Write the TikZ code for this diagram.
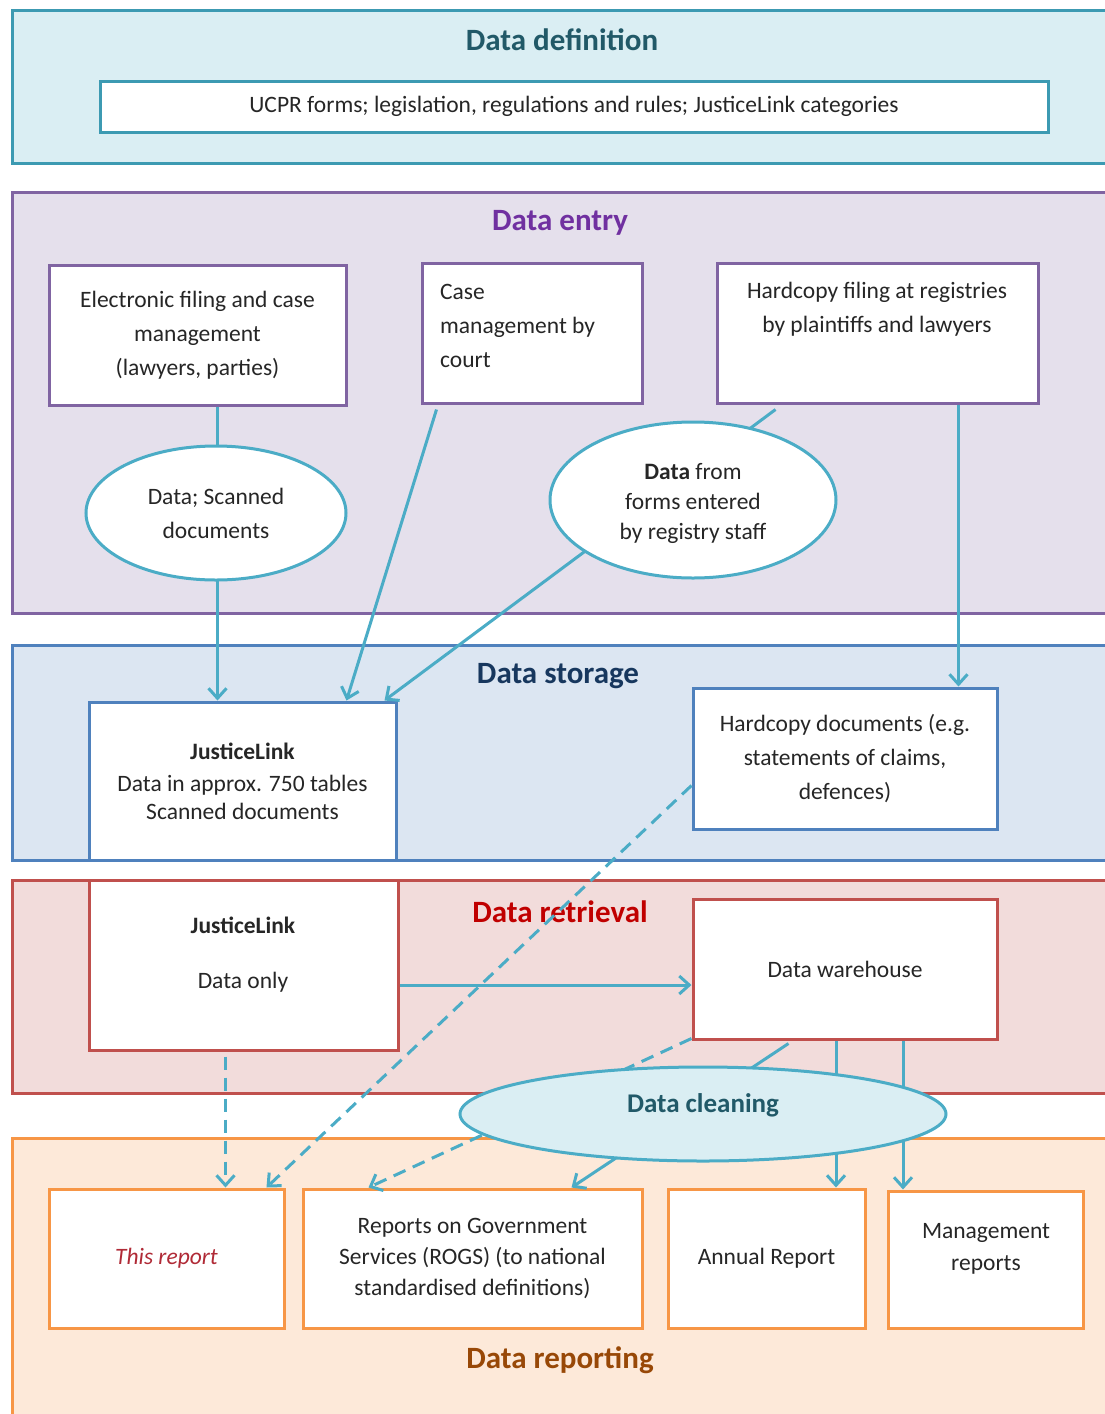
\documentclass[tikz,border=0pt]{standalone}
\usepackage{fontspec}
\setmainfont{Carlito}
\usetikzlibrary{arrows.meta,shapes.geometric}
\definecolor{teal1}{HTML}{4BACC6}
\definecolor{tealdk}{HTML}{3C9AB2}
\definecolor{deffill}{HTML}{DAEEF3}
\definecolor{entfill}{HTML}{E5E0EC}
\definecolor{entline}{HTML}{8064A2}
\definecolor{stofill}{HTML}{DCE6F2}
\definecolor{stoline}{HTML}{4F81BD}
\definecolor{retfill}{HTML}{F2DCDB}
\definecolor{retline}{HTML}{C0504D}
\definecolor{repfill}{HTML}{FDE9D9}
\definecolor{repline}{HTML}{F79646}
\definecolor{tdef}{HTML}{215968}
\definecolor{tent}{HTML}{7030A0}
\definecolor{tsto}{HTML}{17375E}
\definecolor{tret}{HTML}{C00000}
\definecolor{trep}{HTML}{984807}
\definecolor{thisrep}{HTML}{B02A36}
\begin{document}
\begin{tikzpicture}[x=1pt,y=-1pt,
  panel/.style={line width=3pt},
  ptitle/.style={font=\fontsize{31}{36}\selectfont\bfseries, inner sep=0pt},
  txt/.style={font=\fontsize{23.5}{34}\selectfont, align=center, inner sep=0pt, text=black!85},
  boxtxt/.style={txt, fill=white, line width=3pt, inner sep=2pt},
  defbox/.style={boxtxt, draw=tealdk},
  entbox/.style={boxtxt, draw=entline},
  stobox/.style={boxtxt, draw=stoline},
  retbox/.style={boxtxt, draw=retline},
  repbox/.style={boxtxt, draw=repline},
  ell/.style={ellipse, draw=teal1, fill=white, line width=3pt, inner sep=0pt},
  conn/.style={draw=teal1, line width=3pt},
  tip/.style={-{Straight Barb[length=10pt,width=18pt,line width=3pt]}},
  arr/.style={conn, tip},
  dsh/.style={conn, dash pattern=on 13pt off 8pt},
]
\useasboundingbox (0,0) rectangle (1105,1414);
\clip (0,0) rectangle (1105,1414);
% panels
\path[panel, draw=tealdk, fill=deffill] (12,10) rectangle (1112,163);
\path[panel, draw=entline, fill=entfill] (12,192) rectangle (1112,613);
\path[panel, draw=stoline, fill=stofill] (12,645) rectangle (1112,860);
\path[panel, draw=retline, fill=retfill] (12,880) rectangle (1112,1093);
\path[panel, draw=repline, fill=repfill] (12,1138) rectangle (1112,1430);
% titles
\node[ptitle, text=tdef] (tdefn) at (562,40) {Data definition};
\node[ptitle, text=tent] (tentr) at (560,223) {Data entry};
\node[ptitle, text=tsto] (tstor) at (558,676) {Data storage};
\node[ptitle, text=tret] (tretr) at (560,912) {Data retrieval};
\node[ptitle, text=trep] (trepo) at (560,1360) {Data reporting};
% boxes
\node[defbox, minimum width=948, minimum height=51] (ucpr) at (574,106.5) {UCPR forms; legislation, regulations and rules; JusticeLink categories};
\node[entbox, minimum width=297, minimum height=140] (elec) at (197.5,335) {Electronic filing and case\\management\\(lawyers, parties)};
\node[entbox, minimum width=220, minimum height=140] (case) at (532,333) {};
\node[txt, align=left, anchor=west] (caset) at (440,326) {Case\\management by\\court};
\node[entbox, minimum width=321, minimum height=140] (hcf) at (877.5,333) {};
\node[txt] (hcft) at (877,309) {Hardcopy filing at registries\\by plaintiffs and lawyers};
\node[stobox, minimum width=307, minimum height=158] (jl1) at (242.5,781) {{\bfseries JusticeLink}\\[-2pt]Data in approx. 750 tables\\[-6pt]Scanned documents};
\node[stobox, minimum width=304, minimum height=141] (hcd) at (845,758.5) {Hardcopy documents (e.g.\\statements of claims,\\defences)};
\node[retbox, minimum width=309, minimum height=170] (jl2) at (243.5,965) {};
\node[txt] (jl2t) at (243,955) {{\bfseries JusticeLink}\\[21pt]Data only};
\node[retbox, minimum width=304, minimum height=140] (dw) at (845,969) {Data warehouse};
\node[repbox, minimum width=235, minimum height=139] (thisr) at (166.5,1258.5) {\textcolor{thisrep}{\itshape This report}};
\node[repbox, minimum width=339, minimum height=139] (rogs) at (472.5,1258.5) {Reports on Government\\[-3pt]Services (ROGS) (to national\\[-3pt]standardised definitions)};
\node[repbox, minimum width=197, minimum height=139] (annual) at (766.5,1258.5) {Annual Report};
\node[repbox, minimum width=195, minimum height=137] (mgmt) at (985.5,1259.5) {};
\node[txt] (mgmtt) at (986,1249) {Management\\[-2pt]reports};
% connectors (behind ellipses)
\draw[conn] ([xshift=20]elec.south) -- ++(0,45) coordinate (e1top);
\draw[arr] ([xshift=-25]jl1.north |- 0,580) coordinate (e1bot) -- ([xshift=-25]jl1.north);
\draw[arr] ([xshift=16,yshift=-5]case.south west) -- ([xshift=259]jl1.north west);
\draw[arr] ([xshift=60,yshift=-5]hcf.south west) -- ([xshift=-13]jl1.north east);
\draw[arr] ([xshift=-40]hcd.north east |- hcf.south) coordinate (hcfb) -- ([xshift=-40]hcd.north east);
\draw[dsh, tip] ([yshift=-27]hcd.west) -- ([xshift=-19]thisr.north east);
\draw[arr] ([yshift=-20]jl2.east) coordinate (jlr) -- (jlr -| dw.west);
\draw[dsh, tip] ([xshift=-18,yshift=-5]jl2.south) coordinate (jlb) -- (jlb |- thisr.north);
\draw[dsh, tip] ([yshift=2]dw.south west) -- ([xshift=67]rogs.north west);
\draw[arr] ([xshift=97,yshift=-3]dw.south west) -- ([xshift=-72]rogs.north east);
\draw[arr] ([xshift=-9]dw.south) coordinate (dwa) -- (dwa |- annual.north);
\draw[arr] ([xshift=58]dw.south) coordinate (dwb) -- (dwb |- mgmt.north);
% ellipses
\node[ell, minimum width=260, minimum height=134] (ell1) at (216,513) {};
\node[txt] (ell1t) at (216,513) {Data; Scanned\\documents};
\node[ell, minimum width=286, minimum height=156] (ell2) at (693,500) {};
\node[txt] (ell2t) at (693,503) {{\bfseries Data} from\\[-4pt]forms entered\\[-4pt]by registry staff};
\node[ell, fill=deffill, minimum width=486, minimum height=94] (clean) at (703,1114) {};
\node[txt, font=\fontsize{27}{30}\selectfont\bfseries, text=tdef] (cleant) at (703,1105) {Data cleaning};
\end{tikzpicture}
\end{document}
